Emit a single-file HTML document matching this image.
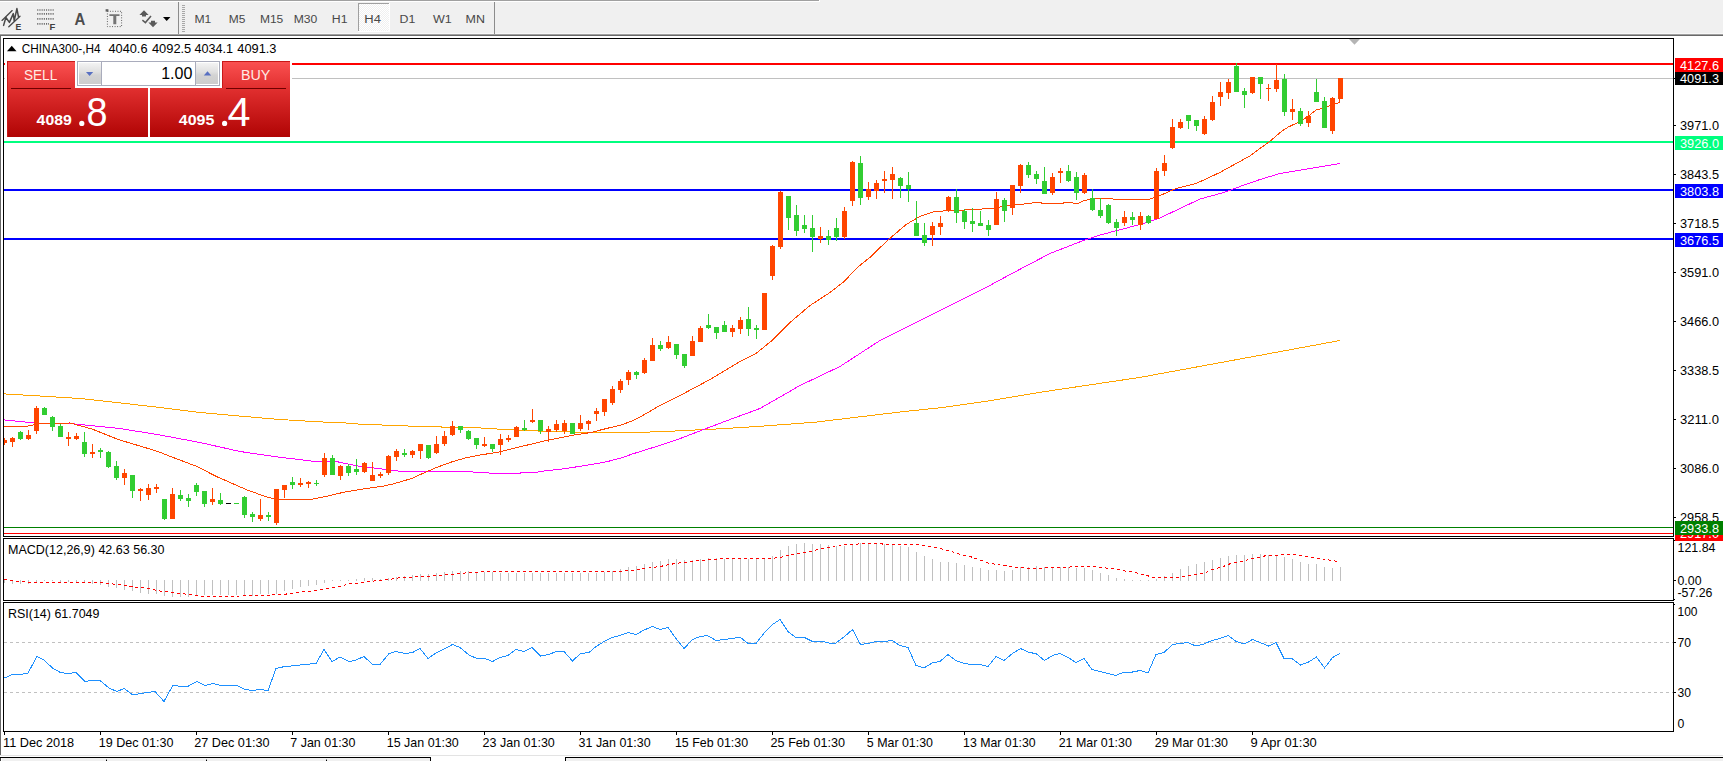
<!DOCTYPE html>
<html><head><meta charset="utf-8"><title>CHINA300-,H4</title>
<style>
html,body{margin:0;padding:0;background:#fff;}
body{width:1723px;height:761px;overflow:hidden;position:relative;font-family:"Liberation Sans",sans-serif;}
svg{position:absolute;left:0;top:0;}
text{font-family:"Liberation Sans",sans-serif;}
.t{font-size:13px;fill:#000;}
.w{font-size:13px;fill:#fff;}
.tf{font-size:11.7px;fill:#484848;}
</style></head><body>
<svg width="1723" height="761" viewBox="0 0 1723 761">
<defs>
<linearGradient id="rg" x1="0" y1="0" x2="0" y2="1"><stop offset="0" stop-color="#fb5252"/><stop offset="0.35" stop-color="#e23030"/><stop offset="1" stop-color="#b00404"/></linearGradient>
<linearGradient id="bg" x1="0" y1="0" x2="0" y2="1"><stop offset="0" stop-color="#f3f3f3"/><stop offset="0.42" stop-color="#e0e0e0"/><stop offset="0.58" stop-color="#d3d3d3"/><stop offset="1" stop-color="#cdcdcd"/></linearGradient>
<pattern id="dith" width="2" height="2" patternUnits="userSpaceOnUse"><rect width="2" height="2" fill="#f0f0f0"/><rect width="1" height="1" fill="#fff"/><rect x="1" y="1" width="1" height="1" fill="#fff"/></pattern>
</defs>

<g shape-rendering="crispEdges">
<rect x="0" y="0" width="1723" height="34" fill="#f0f0f0"/>
<rect x="0" y="0" width="819" height="1" fill="#a0a0a0"/>
<rect x="0" y="1" width="820" height="1" fill="#fff"/><rect x="819" y="0" width="1" height="2" fill="#fff"/>
<rect x="0" y="33" width="1723" height="1" fill="#f8f8f8"/>
<rect x="0" y="34" width="1723" height="1" fill="#a0a0a0"/>
<rect x="0" y="35" width="1723" height="1" fill="#696969"/>
<rect x="0" y="36" width="1" height="719" fill="#696969"/>
<rect x="178" y="2" width="1" height="32" fill="#8c8c8c"/>
<rect x="494" y="2" width="1" height="32" fill="#8c8c8c"/>
<rect x="182" y="5" width="3" height="1" fill="#a8a8a8"/>
<rect x="182" y="7" width="3" height="1" fill="#a8a8a8"/>
<rect x="182" y="9" width="3" height="1" fill="#a8a8a8"/>
<rect x="182" y="11" width="3" height="1" fill="#a8a8a8"/>
<rect x="182" y="13" width="3" height="1" fill="#a8a8a8"/>
<rect x="182" y="15" width="3" height="1" fill="#a8a8a8"/>
<rect x="182" y="17" width="3" height="1" fill="#a8a8a8"/>
<rect x="182" y="19" width="3" height="1" fill="#a8a8a8"/>
<rect x="182" y="21" width="3" height="1" fill="#a8a8a8"/>
<rect x="182" y="23" width="3" height="1" fill="#a8a8a8"/>
<rect x="182" y="25" width="3" height="1" fill="#a8a8a8"/>
<rect x="182" y="27" width="3" height="1" fill="#a8a8a8"/>
<rect x="182" y="29" width="3" height="1" fill="#a8a8a8"/>
<rect x="182" y="31" width="3" height="1" fill="#a8a8a8"/>
<rect x="358" y="3" width="31" height="29" fill="url(#dith)"/>
<rect x="358" y="3" width="31" height="1" fill="#a0a0a0"/><rect x="358" y="3" width="1" height="29" fill="#a0a0a0"/>
<rect x="358" y="31" width="32" height="1" fill="#fff"/><rect x="389" y="3" width="1" height="29" fill="#fff"/>
</g>
<text class="tf" x="194.4" y="23.3" textLength="16.9" lengthAdjust="spacingAndGlyphs">M1</text>
<text class="tf" x="228.7" y="23.3" textLength="16.6" lengthAdjust="spacingAndGlyphs">M5</text>
<text class="tf" x="259.9" y="23.3" textLength="23.4" lengthAdjust="spacingAndGlyphs">M15</text>
<text class="tf" x="293.7" y="23.3" textLength="23.6" lengthAdjust="spacingAndGlyphs">M30</text>
<text class="tf" x="331.8" y="23.3" textLength="15.7" lengthAdjust="spacingAndGlyphs">H1</text>
<text class="tf" x="364.3" y="23.3" textLength="16.6" lengthAdjust="spacingAndGlyphs">H4</text>
<text class="tf" x="399.5" y="23.3" textLength="15.8" lengthAdjust="spacingAndGlyphs">D1</text>
<text class="tf" x="433.0" y="23.3" textLength="18.8" lengthAdjust="spacingAndGlyphs">W1</text>
<text class="tf" x="465.5" y="23.3" textLength="19.4" lengthAdjust="spacingAndGlyphs">MN</text>
<g id="icons" fill="none" stroke="#484848" stroke-linecap="round">
<path d="M2 20.4 L12.2 10.6 M8.8 26.8 L20 16.2" stroke-width="1.35"/>
<path d="M3.6 25.4 L5.9 17.5 L9.4 22.4 L13.3 13.6 L14.2 20.8 L16.9 8.6 L18.5 16.8" stroke-width="1.5" stroke-linejoin="round"/>
</g>
<text x="15.6" y="29.6" font-size="9.2" font-weight="bold" fill="#404040" textLength="5.8" lengthAdjust="spacingAndGlyphs">E</text>
<g stroke="#6c6c6c" stroke-width="1.7" stroke-dasharray="1.1,1.1">
<path d="M37.2 10 H54.4 M37.2 13.9 H54.4 M37.2 18.8 H54.4 M37.2 23.8 H49"/></g>
<text x="49.4" y="29.6" font-size="9.2" font-weight="bold" fill="#404040" textLength="5.8" lengthAdjust="spacingAndGlyphs">F</text>
<text x="74.6" y="24.5" font-size="16.6" font-weight="bold" fill="#4c4c4c" textLength="10.8" lengthAdjust="spacingAndGlyphs">A</text>
<rect x="107.4" y="11.3" width="14.2" height="15.3" fill="none" stroke="#555" stroke-width="1" stroke-dasharray="0.9,1.64"/>
<rect x="105.6" y="9.2" width="2.8" height="2.4" fill="#606060"/>
<path d="M109.4 14.2 H119.5 V16 H116.3 V24.3 H113.3 V16 H109.4 Z" fill="#747474"/>
<g fill="#5a5a5a"><path d="M144 10.2 L148.6 15 H146 V16.6 H142 V15 H139.4 Z"/><path d="M153 27.2 L148.4 22.4 H151 V20.8 H155 V22.4 H157.6 Z"/></g>
<path d="M142.4 20.2 L145.4 22.6 L151 16" fill="none" stroke="#5a5a5a" stroke-width="1.5"/>
<path d="M163 17 H170.4 L166.7 21 Z" fill="#000"/>

<g shape-rendering="crispEdges">
<rect x="1" y="36" width="1722" height="719" fill="#fff"/>
<rect x="3" y="38" width="1671" height="1" fill="#000"/>
<rect x="3" y="38" width="1" height="694" fill="#000"/>
<rect x="1673" y="38" width="1" height="694" fill="#000"/>
<rect x="3" y="536" width="1671" height="1" fill="#000"/>
<rect x="3" y="538" width="1671" height="1" fill="#000"/>
<rect x="3" y="600" width="1671" height="1" fill="#000"/>
<rect x="3" y="602" width="1671" height="1" fill="#000"/>
<rect x="3" y="731" width="1671" height="1" fill="#000"/>
<rect x="3" y="537" width="1671" height="1" fill="#fff"/><rect x="3" y="601" width="1671" height="1" fill="#fff"/>
<rect x="4" y="63" width="1669" height="2" fill="#ff0000"/>
<rect x="4" y="78" width="1669" height="1" fill="#c0c0c0"/>
<rect x="4" y="141" width="1669" height="2" fill="#00ff7f"/>
<rect x="4" y="189" width="1669" height="2" fill="#0000ff"/>
<rect x="4" y="238" width="1669" height="2" fill="#0000ff"/>
<rect x="4" y="527" width="1669" height="1" fill="#008000"/>
<rect x="4" y="533" width="1669" height="1" fill="#ff0000"/>
<path d="M1349 39 H1360 L1354.5 44.8 Z" fill="#b4b4b4" shape-rendering="auto"/>
</g>
<polyline points="4.0,393.9 48.0,396.5 80.0,398.5 120.0,402.9 160.0,407.5 200.0,412.5 240.0,416.1 280.0,419.5 320.0,421.9 345.0,422.9 360.0,424.2 416.0,426.3 440.0,426.3 442.0,427.2 479.0,427.2 482.0,428.5 496.0,428.5 498.0,429.4 513.0,429.4 521.0,430.5 537.0,430.7 540.0,431.8 574.0,432.0 578.0,432.8 632.0,432.8 650.0,432.0 675.0,431.0 720.0,428.8 760.0,426.3 816.0,422.1 900.0,412.0 940.0,407.8 985.0,401.5 1040.0,392.3 1140.0,377.4 1239.5,359.1 1340.0,340.5" fill="none" stroke="#ffa500" stroke-width="1" shape-rendering="crispEdges"/>
<polyline points="4.0,419.9 40.0,423.5 70.0,423.5 120.0,428.5 160.0,435.0 200.0,442.5 240.0,451.5 280.0,457.3 297.0,459.2 312.8,461.3 335.0,461.3 358.8,466.1 385.0,469.4 401.0,471.4 472.0,471.4 474.0,472.5 488.0,472.5 490.0,473.4 520.0,473.4 521.0,472.5 535.0,472.5 544.0,471.0 560.5,469.2 573.7,467.3 590.8,464.6 606.5,461.8 621.0,458.0 632.0,454.1 650.0,448.5 675.0,440.5 723.0,422.1 760.0,408.5 800.0,385.5 840.0,366.5 880.0,340.5 920.0,320.5 960.0,300.5 985.0,288.1 1010.0,274.5 1050.0,253.5 1080.0,241.8 1100.0,235.0 1140.0,224.5 1160.0,218.0 1200.0,199.0 1224.0,192.5 1240.0,186.5 1260.0,179.5 1280.0,173.5 1300.0,170.2 1340.0,163.5" fill="none" stroke="#ff00ff" stroke-width="1" shape-rendering="crispEdges"/>
<polyline points="4.0,427.0 26.0,426.5 40.0,423.5 70.0,423.0 92.0,429.0 118.3,439.5 157.7,451.4 170.0,456.3 197.0,466.5 216.0,476.3 246.0,489.5 268.0,497.5 280.0,499.3 311.5,499.3 326.0,496.4 345.7,491.8 365.4,488.7 385.0,485.8 394.3,483.6 411.4,478.6 424.5,472.7 435.0,468.1 450.8,462.2 464.0,458.3 477.0,455.6 481.7,454.8 500.1,451.8 521.1,446.5 547.4,440.3 573.7,435.1 590.8,432.5 606.5,428.5 621.0,425.0 632.0,421.0 640.0,417.0 660.0,405.5 680.0,395.5 710.0,379.5 740.0,361.5 756.0,353.5 772.0,340.5 790.0,322.5 810.0,305.5 830.0,292.5 844.0,281.5 858.3,266.7 871.4,256.2 880.0,247.6 890.0,238.3 906.0,224.6 920.0,216.3 934.0,211.7 950.0,210.5 980.0,209.5 984.5,208.5 993.0,208.5 1000.0,207.0 1010.0,205.5 1014.4,204.5 1023.6,204.5 1025.0,203.5 1031.5,203.5 1033.0,202.5 1040.7,202.5 1042.0,203.5 1063.0,203.5 1064.3,202.5 1072.2,202.5 1073.5,203.5 1077.5,203.5 1083.0,201.1 1092.0,198.4 1112.0,198.4 1114.0,199.4 1149.0,199.4 1160.0,195.6 1176.0,188.4 1196.0,183.6 1220.0,172.4 1250.0,155.9 1258.0,149.9 1269.0,142.0 1281.6,131.3 1288.0,127.2 1300.4,121.3 1308.0,116.5 1316.7,109.4 1321.7,108.8 1330.5,105.5 1335.5,103.8 1339.0,102.5 1340.0,99.5" fill="none" stroke="#ff4500" stroke-width="1" shape-rendering="crispEdges"/>
<g shape-rendering="crispEdges">
<rect x="4" y="438" width="1" height="7" fill="#ff4500"/>
<rect x="4" y="440" width="3" height="3" fill="#ff4500"/>
<rect x="12" y="437" width="1" height="10" fill="#ff4500"/>
<rect x="10" y="438" width="5" height="4" fill="#ff4500"/>
<rect x="20" y="431" width="1" height="9" fill="#32cd32"/>
<rect x="18" y="432" width="5" height="7" fill="#32cd32"/>
<rect x="28" y="430" width="1" height="10" fill="#ff4500"/>
<rect x="26" y="435" width="5" height="4" fill="#ff4500"/>
<rect x="36" y="406" width="1" height="28" fill="#ff4500"/>
<rect x="34" y="408" width="5" height="23" fill="#ff4500"/>
<rect x="44" y="407" width="1" height="8" fill="#32cd32"/>
<rect x="42" y="408" width="5" height="7" fill="#32cd32"/>
<rect x="52" y="416" width="1" height="15" fill="#32cd32"/>
<rect x="50" y="417" width="5" height="10" fill="#32cd32"/>
<rect x="60" y="424" width="1" height="13" fill="#32cd32"/>
<rect x="58" y="426" width="5" height="11" fill="#32cd32"/>
<rect x="68" y="432" width="1" height="14" fill="#ff4500"/>
<rect x="66" y="437" width="5" height="2" fill="#ff4500"/>
<rect x="76" y="433" width="1" height="7" fill="#ff4500"/>
<rect x="74" y="436" width="5" height="3" fill="#ff4500"/>
<rect x="84" y="432" width="1" height="25" fill="#32cd32"/>
<rect x="82" y="442" width="5" height="12" fill="#32cd32"/>
<rect x="92" y="444" width="1" height="14" fill="#ff4500"/>
<rect x="90" y="452" width="5" height="2" fill="#ff4500"/>
<rect x="100" y="448" width="1" height="10" fill="#32cd32"/>
<rect x="98" y="450" width="5" height="2" fill="#32cd32"/>
<rect x="108" y="451" width="1" height="17" fill="#32cd32"/>
<rect x="106" y="452" width="5" height="15" fill="#32cd32"/>
<rect x="116" y="461" width="1" height="19" fill="#32cd32"/>
<rect x="114" y="466" width="5" height="12" fill="#32cd32"/>
<rect x="124" y="469" width="1" height="16" fill="#ff4500"/>
<rect x="122" y="473" width="5" height="5" fill="#ff4500"/>
<rect x="132" y="475" width="1" height="23" fill="#32cd32"/>
<rect x="130" y="475" width="5" height="16" fill="#32cd32"/>
<rect x="140" y="488" width="1" height="13" fill="#ff4500"/>
<rect x="138" y="489" width="5" height="2" fill="#ff4500"/>
<rect x="148" y="484" width="1" height="16" fill="#ff4500"/>
<rect x="146" y="488" width="5" height="7" fill="#ff4500"/>
<rect x="156" y="484" width="1" height="9" fill="#ff4500"/>
<rect x="154" y="487" width="5" height="2" fill="#ff4500"/>
<rect x="164" y="499" width="1" height="21" fill="#32cd32"/>
<rect x="162" y="499" width="5" height="20" fill="#32cd32"/>
<rect x="172" y="488" width="1" height="31" fill="#ff4500"/>
<rect x="170" y="494" width="5" height="25" fill="#ff4500"/>
<rect x="180" y="490" width="1" height="11" fill="#32cd32"/>
<rect x="178" y="495" width="5" height="4" fill="#32cd32"/>
<rect x="188" y="494" width="1" height="13" fill="#32cd32"/>
<rect x="186" y="498" width="5" height="3" fill="#32cd32"/>
<rect x="196" y="483" width="1" height="13" fill="#32cd32"/>
<rect x="194" y="485" width="5" height="7" fill="#32cd32"/>
<rect x="204" y="491" width="1" height="16" fill="#32cd32"/>
<rect x="202" y="491" width="5" height="13" fill="#32cd32"/>
<rect x="212" y="488" width="1" height="17" fill="#ff4500"/>
<rect x="210" y="499" width="5" height="3" fill="#ff4500"/>
<rect x="220" y="493" width="1" height="12" fill="#32cd32"/>
<rect x="218" y="500" width="5" height="4" fill="#32cd32"/>
<rect x="228" y="503" width="1" height="1" fill="#000"/>
<rect x="226" y="503" width="5" height="1" fill="#000"/>
<rect x="236" y="503" width="1" height="1" fill="#32cd32"/>
<rect x="234" y="503" width="5" height="1" fill="#32cd32"/>
<rect x="244" y="496" width="1" height="22" fill="#32cd32"/>
<rect x="242" y="497" width="5" height="18" fill="#32cd32"/>
<rect x="252" y="512" width="1" height="10" fill="#32cd32"/>
<rect x="250" y="514" width="5" height="3" fill="#32cd32"/>
<rect x="260" y="499" width="1" height="22" fill="#ff4500"/>
<rect x="258" y="515" width="5" height="4" fill="#ff4500"/>
<rect x="268" y="512" width="1" height="9" fill="#32cd32"/>
<rect x="266" y="515" width="5" height="2" fill="#32cd32"/>
<rect x="276" y="489" width="1" height="36" fill="#ff4500"/>
<rect x="274" y="489" width="5" height="34" fill="#ff4500"/>
<rect x="284" y="485" width="1" height="13" fill="#ff4500"/>
<rect x="282" y="485" width="5" height="5" fill="#ff4500"/>
<rect x="292" y="477" width="1" height="12" fill="#32cd32"/>
<rect x="290" y="482" width="5" height="3" fill="#32cd32"/>
<rect x="300" y="478" width="1" height="9" fill="#ff4500"/>
<rect x="298" y="483" width="5" height="2" fill="#ff4500"/>
<rect x="308" y="481" width="1" height="7" fill="#ff4500"/>
<rect x="306" y="482" width="5" height="2" fill="#ff4500"/>
<rect x="316" y="480" width="1" height="6" fill="#32cd32"/>
<rect x="314" y="483" width="5" height="1" fill="#32cd32"/>
<rect x="324" y="453" width="1" height="24" fill="#ff4500"/>
<rect x="322" y="458" width="5" height="17" fill="#ff4500"/>
<rect x="332" y="455" width="1" height="20" fill="#32cd32"/>
<rect x="330" y="458" width="5" height="17" fill="#32cd32"/>
<rect x="340" y="465" width="1" height="15" fill="#ff4500"/>
<rect x="338" y="466" width="5" height="10" fill="#ff4500"/>
<rect x="348" y="464" width="1" height="12" fill="#32cd32"/>
<rect x="346" y="466" width="5" height="7" fill="#32cd32"/>
<rect x="356" y="459" width="1" height="16" fill="#32cd32"/>
<rect x="354" y="469" width="5" height="3" fill="#32cd32"/>
<rect x="364" y="462" width="1" height="11" fill="#ff4500"/>
<rect x="362" y="463" width="5" height="9" fill="#ff4500"/>
<rect x="372" y="462" width="1" height="19" fill="#ff4500"/>
<rect x="370" y="475" width="5" height="6" fill="#ff4500"/>
<rect x="380" y="472" width="1" height="6" fill="#ff4500"/>
<rect x="378" y="474" width="5" height="2" fill="#ff4500"/>
<rect x="388" y="455" width="1" height="20" fill="#ff4500"/>
<rect x="386" y="456" width="5" height="17" fill="#ff4500"/>
<rect x="396" y="449" width="1" height="12" fill="#ff4500"/>
<rect x="394" y="451" width="5" height="6" fill="#ff4500"/>
<rect x="404" y="449" width="1" height="8" fill="#32cd32"/>
<rect x="402" y="453" width="5" height="2" fill="#32cd32"/>
<rect x="412" y="450" width="1" height="8" fill="#ff4500"/>
<rect x="410" y="451" width="5" height="4" fill="#ff4500"/>
<rect x="420" y="444" width="1" height="15" fill="#ff4500"/>
<rect x="418" y="444" width="5" height="7" fill="#ff4500"/>
<rect x="428" y="445" width="1" height="14" fill="#32cd32"/>
<rect x="426" y="445" width="5" height="13" fill="#32cd32"/>
<rect x="436" y="436" width="1" height="18" fill="#ff4500"/>
<rect x="434" y="444" width="5" height="9" fill="#ff4500"/>
<rect x="444" y="431" width="1" height="15" fill="#ff4500"/>
<rect x="442" y="436" width="5" height="8" fill="#ff4500"/>
<rect x="452" y="421" width="1" height="15" fill="#ff4500"/>
<rect x="450" y="426" width="5" height="9" fill="#ff4500"/>
<rect x="460" y="426" width="1" height="7" fill="#32cd32"/>
<rect x="458" y="426" width="5" height="4" fill="#32cd32"/>
<rect x="468" y="430" width="1" height="10" fill="#32cd32"/>
<rect x="466" y="431" width="5" height="8" fill="#32cd32"/>
<rect x="476" y="438" width="1" height="11" fill="#32cd32"/>
<rect x="474" y="438" width="5" height="7" fill="#32cd32"/>
<rect x="484" y="437" width="1" height="10" fill="#ff4500"/>
<rect x="482" y="444" width="5" height="2" fill="#ff4500"/>
<rect x="492" y="444" width="1" height="8" fill="#32cd32"/>
<rect x="490" y="444" width="5" height="5" fill="#32cd32"/>
<rect x="500" y="434" width="1" height="21" fill="#ff4500"/>
<rect x="498" y="439" width="5" height="6" fill="#ff4500"/>
<rect x="508" y="435" width="1" height="7" fill="#ff4500"/>
<rect x="506" y="438" width="5" height="2" fill="#ff4500"/>
<rect x="516" y="426" width="1" height="11" fill="#ff4500"/>
<rect x="514" y="427" width="5" height="10" fill="#ff4500"/>
<rect x="524" y="420" width="1" height="11" fill="#32cd32"/>
<rect x="522" y="428" width="5" height="2" fill="#32cd32"/>
<rect x="532" y="409" width="1" height="14" fill="#ff4500"/>
<rect x="530" y="420" width="5" height="2" fill="#ff4500"/>
<rect x="540" y="420" width="1" height="14" fill="#32cd32"/>
<rect x="538" y="420" width="5" height="11" fill="#32cd32"/>
<rect x="548" y="426" width="1" height="16" fill="#ff4500"/>
<rect x="546" y="429" width="5" height="3" fill="#ff4500"/>
<rect x="556" y="420" width="1" height="12" fill="#ff4500"/>
<rect x="554" y="424" width="5" height="6" fill="#ff4500"/>
<rect x="564" y="420" width="1" height="14" fill="#ff4500"/>
<rect x="562" y="423" width="5" height="8" fill="#ff4500"/>
<rect x="572" y="423" width="1" height="11" fill="#32cd32"/>
<rect x="570" y="423" width="5" height="11" fill="#32cd32"/>
<rect x="580" y="415" width="1" height="16" fill="#ff4500"/>
<rect x="578" y="423" width="5" height="6" fill="#ff4500"/>
<rect x="588" y="420" width="1" height="10" fill="#ff4500"/>
<rect x="586" y="421" width="5" height="3" fill="#ff4500"/>
<rect x="596" y="408" width="1" height="13" fill="#ff4500"/>
<rect x="594" y="411" width="5" height="3" fill="#ff4500"/>
<rect x="604" y="399" width="1" height="17" fill="#ff4500"/>
<rect x="602" y="399" width="5" height="13" fill="#ff4500"/>
<rect x="612" y="386" width="1" height="19" fill="#ff4500"/>
<rect x="610" y="389" width="5" height="14" fill="#ff4500"/>
<rect x="620" y="379" width="1" height="14" fill="#ff4500"/>
<rect x="618" y="381" width="5" height="9" fill="#ff4500"/>
<rect x="628" y="370" width="1" height="15" fill="#ff4500"/>
<rect x="626" y="372" width="5" height="8" fill="#ff4500"/>
<rect x="636" y="371" width="1" height="8" fill="#32cd32"/>
<rect x="634" y="372" width="5" height="3" fill="#32cd32"/>
<rect x="644" y="358" width="1" height="16" fill="#ff4500"/>
<rect x="642" y="360" width="5" height="13" fill="#ff4500"/>
<rect x="652" y="338" width="1" height="23" fill="#ff4500"/>
<rect x="650" y="345" width="5" height="16" fill="#ff4500"/>
<rect x="660" y="341" width="1" height="10" fill="#32cd32"/>
<rect x="658" y="345" width="5" height="4" fill="#32cd32"/>
<rect x="668" y="336" width="1" height="13" fill="#ff4500"/>
<rect x="666" y="342" width="5" height="6" fill="#ff4500"/>
<rect x="676" y="344" width="1" height="15" fill="#32cd32"/>
<rect x="674" y="344" width="5" height="11" fill="#32cd32"/>
<rect x="684" y="354" width="1" height="14" fill="#32cd32"/>
<rect x="682" y="354" width="5" height="12" fill="#32cd32"/>
<rect x="692" y="336" width="1" height="20" fill="#ff4500"/>
<rect x="690" y="341" width="5" height="15" fill="#ff4500"/>
<rect x="700" y="326" width="1" height="16" fill="#ff4500"/>
<rect x="698" y="328" width="5" height="14" fill="#ff4500"/>
<rect x="708" y="314" width="1" height="15" fill="#32cd32"/>
<rect x="706" y="325" width="5" height="3" fill="#32cd32"/>
<rect x="716" y="327" width="1" height="12" fill="#32cd32"/>
<rect x="714" y="327" width="5" height="6" fill="#32cd32"/>
<rect x="724" y="321" width="1" height="11" fill="#32cd32"/>
<rect x="722" y="325" width="5" height="7" fill="#32cd32"/>
<rect x="732" y="325" width="1" height="12" fill="#ff4500"/>
<rect x="730" y="328" width="5" height="4" fill="#ff4500"/>
<rect x="740" y="317" width="1" height="17" fill="#ff4500"/>
<rect x="738" y="320" width="5" height="9" fill="#ff4500"/>
<rect x="748" y="307" width="1" height="29" fill="#32cd32"/>
<rect x="746" y="319" width="5" height="10" fill="#32cd32"/>
<rect x="756" y="325" width="1" height="14" fill="#32cd32"/>
<rect x="754" y="328" width="5" height="2" fill="#32cd32"/>
<rect x="764" y="293" width="1" height="37" fill="#ff4500"/>
<rect x="762" y="293" width="5" height="37" fill="#ff4500"/>
<rect x="772" y="245" width="1" height="35" fill="#ff4500"/>
<rect x="770" y="246" width="5" height="30" fill="#ff4500"/>
<rect x="780" y="191" width="1" height="58" fill="#ff4500"/>
<rect x="778" y="192" width="5" height="55" fill="#ff4500"/>
<rect x="788" y="196" width="1" height="34" fill="#32cd32"/>
<rect x="786" y="196" width="5" height="22" fill="#32cd32"/>
<rect x="796" y="205" width="1" height="31" fill="#32cd32"/>
<rect x="794" y="215" width="5" height="16" fill="#32cd32"/>
<rect x="804" y="215" width="1" height="18" fill="#32cd32"/>
<rect x="802" y="225" width="5" height="4" fill="#32cd32"/>
<rect x="812" y="215" width="1" height="37" fill="#32cd32"/>
<rect x="810" y="228" width="5" height="9" fill="#32cd32"/>
<rect x="820" y="227" width="1" height="16" fill="#ff4500"/>
<rect x="818" y="236" width="5" height="3" fill="#ff4500"/>
<rect x="828" y="230" width="1" height="15" fill="#32cd32"/>
<rect x="826" y="236" width="5" height="4" fill="#32cd32"/>
<rect x="836" y="218" width="1" height="23" fill="#32cd32"/>
<rect x="834" y="228" width="5" height="9" fill="#32cd32"/>
<rect x="844" y="207" width="1" height="32" fill="#ff4500"/>
<rect x="842" y="211" width="5" height="26" fill="#ff4500"/>
<rect x="852" y="161" width="1" height="45" fill="#ff4500"/>
<rect x="850" y="162" width="5" height="39" fill="#ff4500"/>
<rect x="860" y="156" width="1" height="49" fill="#32cd32"/>
<rect x="858" y="163" width="5" height="35" fill="#32cd32"/>
<rect x="868" y="182" width="1" height="18" fill="#ff4500"/>
<rect x="866" y="189" width="5" height="8" fill="#ff4500"/>
<rect x="876" y="180" width="1" height="19" fill="#ff4500"/>
<rect x="874" y="183" width="5" height="8" fill="#ff4500"/>
<rect x="884" y="171" width="1" height="22" fill="#ff4500"/>
<rect x="882" y="179" width="5" height="2" fill="#ff4500"/>
<rect x="892" y="167" width="1" height="32" fill="#ff4500"/>
<rect x="890" y="174" width="5" height="6" fill="#ff4500"/>
<rect x="900" y="177" width="1" height="21" fill="#32cd32"/>
<rect x="898" y="178" width="5" height="8" fill="#32cd32"/>
<rect x="908" y="172" width="1" height="30" fill="#32cd32"/>
<rect x="906" y="185" width="5" height="4" fill="#32cd32"/>
<rect x="916" y="201" width="1" height="35" fill="#32cd32"/>
<rect x="914" y="223" width="5" height="13" fill="#32cd32"/>
<rect x="924" y="223" width="1" height="23" fill="#32cd32"/>
<rect x="922" y="235" width="5" height="8" fill="#32cd32"/>
<rect x="932" y="222" width="1" height="24" fill="#ff4500"/>
<rect x="930" y="226" width="5" height="9" fill="#ff4500"/>
<rect x="940" y="216" width="1" height="19" fill="#ff4500"/>
<rect x="938" y="223" width="5" height="4" fill="#ff4500"/>
<rect x="948" y="196" width="1" height="16" fill="#ff4500"/>
<rect x="946" y="197" width="5" height="14" fill="#ff4500"/>
<rect x="956" y="189" width="1" height="34" fill="#32cd32"/>
<rect x="954" y="197" width="5" height="16" fill="#32cd32"/>
<rect x="964" y="209" width="1" height="20" fill="#32cd32"/>
<rect x="962" y="211" width="5" height="11" fill="#32cd32"/>
<rect x="972" y="208" width="1" height="24" fill="#32cd32"/>
<rect x="970" y="221" width="5" height="3" fill="#32cd32"/>
<rect x="980" y="211" width="1" height="15" fill="#32cd32"/>
<rect x="978" y="223" width="5" height="3" fill="#32cd32"/>
<rect x="988" y="220" width="1" height="16" fill="#32cd32"/>
<rect x="986" y="225" width="5" height="5" fill="#32cd32"/>
<rect x="996" y="192" width="1" height="33" fill="#ff4500"/>
<rect x="994" y="199" width="5" height="26" fill="#ff4500"/>
<rect x="1004" y="198" width="1" height="24" fill="#32cd32"/>
<rect x="1002" y="200" width="5" height="11" fill="#32cd32"/>
<rect x="1012" y="185" width="1" height="30" fill="#ff4500"/>
<rect x="1010" y="185" width="5" height="23" fill="#ff4500"/>
<rect x="1020" y="164" width="1" height="29" fill="#ff4500"/>
<rect x="1018" y="165" width="5" height="21" fill="#ff4500"/>
<rect x="1028" y="162" width="1" height="16" fill="#32cd32"/>
<rect x="1026" y="165" width="5" height="10" fill="#32cd32"/>
<rect x="1036" y="171" width="1" height="13" fill="#32cd32"/>
<rect x="1034" y="174" width="5" height="5" fill="#32cd32"/>
<rect x="1044" y="167" width="1" height="27" fill="#32cd32"/>
<rect x="1042" y="181" width="5" height="13" fill="#32cd32"/>
<rect x="1052" y="173" width="1" height="22" fill="#ff4500"/>
<rect x="1050" y="177" width="5" height="16" fill="#ff4500"/>
<rect x="1060" y="168" width="1" height="15" fill="#ff4500"/>
<rect x="1058" y="171" width="5" height="2" fill="#ff4500"/>
<rect x="1068" y="165" width="1" height="17" fill="#32cd32"/>
<rect x="1066" y="171" width="5" height="10" fill="#32cd32"/>
<rect x="1076" y="172" width="1" height="28" fill="#32cd32"/>
<rect x="1074" y="177" width="5" height="16" fill="#32cd32"/>
<rect x="1084" y="173" width="1" height="21" fill="#ff4500"/>
<rect x="1082" y="175" width="5" height="18" fill="#ff4500"/>
<rect x="1092" y="189" width="1" height="22" fill="#32cd32"/>
<rect x="1090" y="198" width="5" height="12" fill="#32cd32"/>
<rect x="1100" y="198" width="1" height="20" fill="#32cd32"/>
<rect x="1098" y="210" width="5" height="6" fill="#32cd32"/>
<rect x="1108" y="204" width="1" height="20" fill="#32cd32"/>
<rect x="1106" y="205" width="5" height="18" fill="#32cd32"/>
<rect x="1116" y="219" width="1" height="17" fill="#32cd32"/>
<rect x="1114" y="222" width="5" height="6" fill="#32cd32"/>
<rect x="1124" y="211" width="1" height="15" fill="#ff4500"/>
<rect x="1122" y="217" width="5" height="6" fill="#ff4500"/>
<rect x="1132" y="212" width="1" height="13" fill="#32cd32"/>
<rect x="1130" y="217" width="5" height="3" fill="#32cd32"/>
<rect x="1140" y="212" width="1" height="18" fill="#ff4500"/>
<rect x="1138" y="216" width="5" height="9" fill="#ff4500"/>
<rect x="1148" y="215" width="1" height="9" fill="#32cd32"/>
<rect x="1146" y="216" width="5" height="7" fill="#32cd32"/>
<rect x="1156" y="168" width="1" height="51" fill="#ff4500"/>
<rect x="1154" y="171" width="5" height="48" fill="#ff4500"/>
<rect x="1164" y="155" width="1" height="21" fill="#ff4500"/>
<rect x="1162" y="163" width="5" height="8" fill="#ff4500"/>
<rect x="1172" y="119" width="1" height="30" fill="#ff4500"/>
<rect x="1170" y="127" width="5" height="21" fill="#ff4500"/>
<rect x="1180" y="119" width="1" height="10" fill="#ff4500"/>
<rect x="1178" y="122" width="5" height="6" fill="#ff4500"/>
<rect x="1188" y="115" width="1" height="14" fill="#32cd32"/>
<rect x="1186" y="115" width="5" height="6" fill="#32cd32"/>
<rect x="1196" y="120" width="1" height="11" fill="#32cd32"/>
<rect x="1194" y="120" width="5" height="6" fill="#32cd32"/>
<rect x="1204" y="116" width="1" height="19" fill="#ff4500"/>
<rect x="1202" y="119" width="5" height="15" fill="#ff4500"/>
<rect x="1212" y="96" width="1" height="25" fill="#ff4500"/>
<rect x="1210" y="102" width="5" height="18" fill="#ff4500"/>
<rect x="1220" y="82" width="1" height="24" fill="#ff4500"/>
<rect x="1218" y="92" width="5" height="5" fill="#ff4500"/>
<rect x="1228" y="79" width="1" height="20" fill="#ff4500"/>
<rect x="1226" y="82" width="5" height="11" fill="#ff4500"/>
<rect x="1236" y="63" width="1" height="29" fill="#32cd32"/>
<rect x="1234" y="66" width="5" height="26" fill="#32cd32"/>
<rect x="1244" y="88" width="1" height="20" fill="#32cd32"/>
<rect x="1242" y="91" width="5" height="4" fill="#32cd32"/>
<rect x="1252" y="77" width="1" height="17" fill="#ff4500"/>
<rect x="1250" y="77" width="5" height="16" fill="#ff4500"/>
<rect x="1260" y="77" width="1" height="22" fill="#32cd32"/>
<rect x="1258" y="77" width="5" height="7" fill="#32cd32"/>
<rect x="1268" y="84" width="1" height="17" fill="#ff4500"/>
<rect x="1266" y="88" width="5" height="1" fill="#ff4500"/>
<rect x="1276" y="64" width="1" height="28" fill="#ff4500"/>
<rect x="1274" y="80" width="5" height="9" fill="#ff4500"/>
<rect x="1284" y="74" width="1" height="42" fill="#32cd32"/>
<rect x="1282" y="79" width="5" height="33" fill="#32cd32"/>
<rect x="1292" y="99" width="1" height="21" fill="#ff4500"/>
<rect x="1290" y="109" width="5" height="3" fill="#ff4500"/>
<rect x="1300" y="108" width="1" height="18" fill="#32cd32"/>
<rect x="1298" y="111" width="5" height="13" fill="#32cd32"/>
<rect x="1308" y="111" width="1" height="16" fill="#ff4500"/>
<rect x="1306" y="116" width="5" height="7" fill="#ff4500"/>
<rect x="1316" y="79" width="1" height="23" fill="#32cd32"/>
<rect x="1314" y="92" width="5" height="10" fill="#32cd32"/>
<rect x="1324" y="97" width="1" height="31" fill="#32cd32"/>
<rect x="1322" y="101" width="5" height="27" fill="#32cd32"/>
<rect x="1332" y="97" width="1" height="37" fill="#ff4500"/>
<rect x="1330" y="98" width="5" height="33" fill="#ff4500"/>
<rect x="1340" y="78" width="1" height="21" fill="#ff4500"/>
<rect x="1338" y="78" width="5" height="21" fill="#ff4500"/>
</g>
<g shape-rendering="crispEdges">
<rect x="4" y="580" width="1" height="3" fill="#c0c0c0"/>
<rect x="12" y="580" width="1" height="4" fill="#c0c0c0"/>
<rect x="20" y="580" width="1" height="4" fill="#c0c0c0"/>
<rect x="28" y="580" width="1" height="4" fill="#c0c0c0"/>
<rect x="36" y="580" width="1" height="3" fill="#c0c0c0"/>
<rect x="44" y="580" width="1" height="1" fill="#c0c0c0"/>
<rect x="52" y="580" width="1" height="1" fill="#c0c0c0"/>
<rect x="60" y="580" width="1" height="2" fill="#c0c0c0"/>
<rect x="68" y="580" width="1" height="2" fill="#c0c0c0"/>
<rect x="76" y="580" width="1" height="3" fill="#c0c0c0"/>
<rect x="84" y="580" width="1" height="3" fill="#c0c0c0"/>
<rect x="92" y="580" width="1" height="4" fill="#c0c0c0"/>
<rect x="100" y="580" width="1" height="5" fill="#c0c0c0"/>
<rect x="108" y="580" width="1" height="7" fill="#c0c0c0"/>
<rect x="116" y="580" width="1" height="8" fill="#c0c0c0"/>
<rect x="124" y="580" width="1" height="10" fill="#c0c0c0"/>
<rect x="132" y="580" width="1" height="11" fill="#c0c0c0"/>
<rect x="140" y="580" width="1" height="13" fill="#c0c0c0"/>
<rect x="148" y="580" width="1" height="14" fill="#c0c0c0"/>
<rect x="156" y="580" width="1" height="14" fill="#c0c0c0"/>
<rect x="164" y="580" width="1" height="16" fill="#c0c0c0"/>
<rect x="172" y="580" width="1" height="17" fill="#c0c0c0"/>
<rect x="180" y="580" width="1" height="17" fill="#c0c0c0"/>
<rect x="188" y="580" width="1" height="17" fill="#c0c0c0"/>
<rect x="196" y="580" width="1" height="16" fill="#c0c0c0"/>
<rect x="204" y="580" width="1" height="15" fill="#c0c0c0"/>
<rect x="212" y="580" width="1" height="15" fill="#c0c0c0"/>
<rect x="220" y="580" width="1" height="15" fill="#c0c0c0"/>
<rect x="228" y="580" width="1" height="15" fill="#c0c0c0"/>
<rect x="236" y="580" width="1" height="15" fill="#c0c0c0"/>
<rect x="244" y="580" width="1" height="15" fill="#c0c0c0"/>
<rect x="252" y="580" width="1" height="16" fill="#c0c0c0"/>
<rect x="260" y="580" width="1" height="14" fill="#c0c0c0"/>
<rect x="268" y="580" width="1" height="14" fill="#c0c0c0"/>
<rect x="276" y="580" width="1" height="14" fill="#c0c0c0"/>
<rect x="284" y="580" width="1" height="11" fill="#c0c0c0"/>
<rect x="292" y="580" width="1" height="9" fill="#c0c0c0"/>
<rect x="300" y="580" width="1" height="7" fill="#c0c0c0"/>
<rect x="308" y="580" width="1" height="6" fill="#c0c0c0"/>
<rect x="316" y="580" width="1" height="5" fill="#c0c0c0"/>
<rect x="324" y="580" width="1" height="3" fill="#c0c0c0"/>
<rect x="332" y="580" width="1" height="1" fill="#c0c0c0"/>
<rect x="340" y="580" width="1" height="1" fill="#c0c0c0"/>
<rect x="348" y="580" width="1" height="1" fill="#c0c0c0"/>
<rect x="356" y="579" width="1" height="2" fill="#c0c0c0"/>
<rect x="364" y="578" width="1" height="3" fill="#c0c0c0"/>
<rect x="372" y="578" width="1" height="3" fill="#c0c0c0"/>
<rect x="380" y="579" width="1" height="2" fill="#c0c0c0"/>
<rect x="388" y="578" width="1" height="3" fill="#c0c0c0"/>
<rect x="396" y="577" width="1" height="4" fill="#c0c0c0"/>
<rect x="404" y="576" width="1" height="5" fill="#c0c0c0"/>
<rect x="412" y="575" width="1" height="6" fill="#c0c0c0"/>
<rect x="420" y="574" width="1" height="7" fill="#c0c0c0"/>
<rect x="428" y="574" width="1" height="7" fill="#c0c0c0"/>
<rect x="436" y="573" width="1" height="8" fill="#c0c0c0"/>
<rect x="444" y="572" width="1" height="9" fill="#c0c0c0"/>
<rect x="452" y="571" width="1" height="10" fill="#c0c0c0"/>
<rect x="460" y="571" width="1" height="10" fill="#c0c0c0"/>
<rect x="468" y="571" width="1" height="10" fill="#c0c0c0"/>
<rect x="476" y="572" width="1" height="9" fill="#c0c0c0"/>
<rect x="484" y="572" width="1" height="9" fill="#c0c0c0"/>
<rect x="492" y="572" width="1" height="9" fill="#c0c0c0"/>
<rect x="500" y="573" width="1" height="8" fill="#c0c0c0"/>
<rect x="508" y="573" width="1" height="8" fill="#c0c0c0"/>
<rect x="516" y="573" width="1" height="8" fill="#c0c0c0"/>
<rect x="524" y="573" width="1" height="8" fill="#c0c0c0"/>
<rect x="532" y="573" width="1" height="8" fill="#c0c0c0"/>
<rect x="540" y="573" width="1" height="8" fill="#c0c0c0"/>
<rect x="548" y="573" width="1" height="8" fill="#c0c0c0"/>
<rect x="556" y="573" width="1" height="8" fill="#c0c0c0"/>
<rect x="564" y="573" width="1" height="8" fill="#c0c0c0"/>
<rect x="572" y="573" width="1" height="8" fill="#c0c0c0"/>
<rect x="580" y="573" width="1" height="8" fill="#c0c0c0"/>
<rect x="588" y="573" width="1" height="8" fill="#c0c0c0"/>
<rect x="596" y="573" width="1" height="8" fill="#c0c0c0"/>
<rect x="604" y="572" width="1" height="9" fill="#c0c0c0"/>
<rect x="612" y="571" width="1" height="10" fill="#c0c0c0"/>
<rect x="620" y="569" width="1" height="12" fill="#c0c0c0"/>
<rect x="628" y="567" width="1" height="14" fill="#c0c0c0"/>
<rect x="636" y="566" width="1" height="15" fill="#c0c0c0"/>
<rect x="644" y="564" width="1" height="17" fill="#c0c0c0"/>
<rect x="652" y="562" width="1" height="19" fill="#c0c0c0"/>
<rect x="660" y="561" width="1" height="20" fill="#c0c0c0"/>
<rect x="668" y="559" width="1" height="22" fill="#c0c0c0"/>
<rect x="676" y="559" width="1" height="22" fill="#c0c0c0"/>
<rect x="684" y="560" width="1" height="21" fill="#c0c0c0"/>
<rect x="692" y="560" width="1" height="21" fill="#c0c0c0"/>
<rect x="700" y="559" width="1" height="22" fill="#c0c0c0"/>
<rect x="708" y="558" width="1" height="23" fill="#c0c0c0"/>
<rect x="716" y="558" width="1" height="23" fill="#c0c0c0"/>
<rect x="724" y="559" width="1" height="22" fill="#c0c0c0"/>
<rect x="732" y="559" width="1" height="22" fill="#c0c0c0"/>
<rect x="740" y="559" width="1" height="22" fill="#c0c0c0"/>
<rect x="748" y="559" width="1" height="22" fill="#c0c0c0"/>
<rect x="756" y="559" width="1" height="22" fill="#c0c0c0"/>
<rect x="764" y="559" width="1" height="22" fill="#c0c0c0"/>
<rect x="772" y="556" width="1" height="25" fill="#c0c0c0"/>
<rect x="780" y="550" width="1" height="31" fill="#c0c0c0"/>
<rect x="788" y="546" width="1" height="35" fill="#c0c0c0"/>
<rect x="796" y="544" width="1" height="37" fill="#c0c0c0"/>
<rect x="804" y="543" width="1" height="38" fill="#c0c0c0"/>
<rect x="812" y="544" width="1" height="37" fill="#c0c0c0"/>
<rect x="820" y="544" width="1" height="37" fill="#c0c0c0"/>
<rect x="828" y="545" width="1" height="36" fill="#c0c0c0"/>
<rect x="836" y="546" width="1" height="35" fill="#c0c0c0"/>
<rect x="844" y="546" width="1" height="35" fill="#c0c0c0"/>
<rect x="852" y="544" width="1" height="37" fill="#c0c0c0"/>
<rect x="860" y="543" width="1" height="38" fill="#c0c0c0"/>
<rect x="868" y="543" width="1" height="38" fill="#c0c0c0"/>
<rect x="876" y="544" width="1" height="37" fill="#c0c0c0"/>
<rect x="884" y="544" width="1" height="37" fill="#c0c0c0"/>
<rect x="892" y="545" width="1" height="36" fill="#c0c0c0"/>
<rect x="900" y="546" width="1" height="35" fill="#c0c0c0"/>
<rect x="908" y="547" width="1" height="34" fill="#c0c0c0"/>
<rect x="916" y="552" width="1" height="29" fill="#c0c0c0"/>
<rect x="924" y="556" width="1" height="25" fill="#c0c0c0"/>
<rect x="932" y="559" width="1" height="22" fill="#c0c0c0"/>
<rect x="940" y="562" width="1" height="19" fill="#c0c0c0"/>
<rect x="948" y="562" width="1" height="19" fill="#c0c0c0"/>
<rect x="956" y="563" width="1" height="18" fill="#c0c0c0"/>
<rect x="964" y="565" width="1" height="16" fill="#c0c0c0"/>
<rect x="972" y="567" width="1" height="14" fill="#c0c0c0"/>
<rect x="980" y="568" width="1" height="13" fill="#c0c0c0"/>
<rect x="988" y="570" width="1" height="11" fill="#c0c0c0"/>
<rect x="996" y="570" width="1" height="11" fill="#c0c0c0"/>
<rect x="1004" y="571" width="1" height="10" fill="#c0c0c0"/>
<rect x="1012" y="570" width="1" height="11" fill="#c0c0c0"/>
<rect x="1020" y="567" width="1" height="14" fill="#c0c0c0"/>
<rect x="1028" y="567" width="1" height="14" fill="#c0c0c0"/>
<rect x="1036" y="566" width="1" height="15" fill="#c0c0c0"/>
<rect x="1044" y="567" width="1" height="14" fill="#c0c0c0"/>
<rect x="1052" y="567" width="1" height="14" fill="#c0c0c0"/>
<rect x="1060" y="567" width="1" height="14" fill="#c0c0c0"/>
<rect x="1068" y="567" width="1" height="14" fill="#c0c0c0"/>
<rect x="1076" y="568" width="1" height="13" fill="#c0c0c0"/>
<rect x="1084" y="568" width="1" height="13" fill="#c0c0c0"/>
<rect x="1092" y="570" width="1" height="11" fill="#c0c0c0"/>
<rect x="1100" y="573" width="1" height="8" fill="#c0c0c0"/>
<rect x="1108" y="575" width="1" height="6" fill="#c0c0c0"/>
<rect x="1116" y="578" width="1" height="3" fill="#c0c0c0"/>
<rect x="1124" y="579" width="1" height="2" fill="#c0c0c0"/>
<rect x="1132" y="580" width="1" height="1" fill="#c0c0c0"/>
<rect x="1140" y="580" width="1" height="1" fill="#c0c0c0"/>
<rect x="1148" y="580" width="1" height="1" fill="#c0c0c0"/>
<rect x="1156" y="579" width="1" height="2" fill="#c0c0c0"/>
<rect x="1164" y="576" width="1" height="5" fill="#c0c0c0"/>
<rect x="1172" y="573" width="1" height="8" fill="#c0c0c0"/>
<rect x="1180" y="569" width="1" height="12" fill="#c0c0c0"/>
<rect x="1188" y="566" width="1" height="15" fill="#c0c0c0"/>
<rect x="1196" y="564" width="1" height="17" fill="#c0c0c0"/>
<rect x="1204" y="562" width="1" height="19" fill="#c0c0c0"/>
<rect x="1212" y="560" width="1" height="21" fill="#c0c0c0"/>
<rect x="1220" y="558" width="1" height="23" fill="#c0c0c0"/>
<rect x="1228" y="556" width="1" height="25" fill="#c0c0c0"/>
<rect x="1236" y="555" width="1" height="26" fill="#c0c0c0"/>
<rect x="1244" y="555" width="1" height="26" fill="#c0c0c0"/>
<rect x="1252" y="554" width="1" height="27" fill="#c0c0c0"/>
<rect x="1260" y="554" width="1" height="27" fill="#c0c0c0"/>
<rect x="1268" y="555" width="1" height="26" fill="#c0c0c0"/>
<rect x="1276" y="555" width="1" height="26" fill="#c0c0c0"/>
<rect x="1284" y="557" width="1" height="24" fill="#c0c0c0"/>
<rect x="1292" y="559" width="1" height="22" fill="#c0c0c0"/>
<rect x="1300" y="562" width="1" height="19" fill="#c0c0c0"/>
<rect x="1308" y="564" width="1" height="17" fill="#c0c0c0"/>
<rect x="1316" y="564" width="1" height="17" fill="#c0c0c0"/>
<rect x="1324" y="567" width="1" height="14" fill="#c0c0c0"/>
<rect x="1332" y="568" width="1" height="13" fill="#c0c0c0"/>
<rect x="1340" y="567" width="1" height="14" fill="#c0c0c0"/>
</g>
<polyline points="4.0,579.4 11.0,580.4 18.0,581.3 23.0,581.7 30.0,582.4 102.0,582.4 108.0,583.3 114.0,584.2 119.0,584.5 125.0,585.4 131.0,586.3 137.0,587.3 143.0,587.5 149.0,588.4 155.0,590.0 162.0,591.3 167.0,591.5 173.0,592.5 179.0,593.4 185.0,594.0 191.0,594.4 197.0,595.4 203.0,596.3 238.0,596.5 241.0,595.4 270.0,595.4 276.0,594.4 285.0,594.4 289.0,593.4 297.0,592.7 305.0,591.6 311.0,591.3 316.0,590.3 323.0,589.4 329.0,588.5 335.0,587.5 341.0,586.3 347.0,584.4 353.0,583.4 359.0,583.2 365.0,582.2 371.0,581.5 377.0,580.6 383.0,580.4 389.0,579.4 395.0,578.5 401.0,577.5 407.0,577.3 413.0,577.3 419.0,576.3 426.0,576.3 450.0,574.5 465.0,573.0 485.0,571.5 620.0,571.5 630.0,570.5 645.0,568.5 660.0,566.5 675.0,563.5 700.0,560.5 720.0,559.0 730.0,558.5 770.0,558.5 780.0,557.5 790.0,555.0 800.0,553.0 812.0,551.0 825.0,548.0 838.0,545.5 845.0,544.5 852.0,544.5 865.0,543.5 880.0,543.5 885.0,544.5 918.0,544.5 925.0,546.0 940.0,548.5 950.0,551.0 960.0,554.5 970.0,556.5 980.0,560.0 988.0,563.0 1000.0,565.0 1010.0,566.5 1025.0,568.0 1040.0,568.5 1050.0,567.5 1070.0,567.0 1092.0,566.5 1100.0,567.5 1112.0,568.5 1125.0,571.0 1135.0,572.5 1145.0,575.0 1152.0,577.0 1160.0,577.5 1180.0,577.5 1188.0,575.5 1200.0,574.0 1205.0,573.0 1212.0,569.5 1222.0,567.0 1232.0,563.0 1242.0,561.5 1250.0,559.0 1254.0,558.5 1260.0,557.5 1266.0,555.5 1278.0,555.5 1284.0,554.5 1296.0,554.5 1302.0,555.5 1308.0,556.5 1314.0,557.5 1320.0,558.5 1326.0,559.5 1332.0,560.5 1338.0,561.5" fill="none" stroke="#ff0000" stroke-width="1" stroke-dasharray="3,3" shape-rendering="crispEdges"/>
<g shape-rendering="crispEdges" stroke="#c0c0c0" stroke-width="1" stroke-dasharray="3,3"><path d="M4 642.5 H1673 M4 692.5 H1673"/></g>
<polyline points="4.5,678.0 11.0,675.0 21.0,674.5 28.0,673.0 37.0,656.5 44.0,660.0 52.5,668.0 60.5,672.5 67.5,673.5 76.0,672.5 85.0,681.5 91.0,680.5 100.0,680.5 109.0,688.0 117.0,691.5 124.0,688.5 133.0,695.0 140.0,693.5 155.0,691.5 164.0,701.5 173.0,685.0 180.0,686.5 187.5,686.5 197.0,681.5 205.0,685.5 212.5,683.5 219.0,685.0 236.0,685.0 245.0,689.5 252.5,690.5 260.0,689.5 268.0,690.5 276.0,668.5 282.5,667.0 295.0,665.5 305.0,664.5 316.0,663.5 324.0,649.5 332.0,661.5 340.0,657.0 349.0,661.5 355.0,660.5 364.0,656.5 372.5,664.5 380.0,664.5 389.0,653.5 396.0,651.5 405.0,653.5 412.5,652.5 420.0,648.5 428.0,658.5 436.0,653.0 445.0,648.5 452.5,644.5 460.0,647.5 469.0,655.0 477.0,658.5 485.0,658.5 492.5,661.5 500.0,657.5 508.0,655.5 516.0,649.5 524.0,651.5 532.0,647.5 540.5,656.0 549.0,654.5 556.0,651.5 564.0,651.5 572.5,661.0 580.5,653.5 589.0,652.5 596.0,646.5 605.0,641.0 612.5,637.5 620.0,635.5 628.0,632.5 636.0,634.5 644.0,630.0 652.5,626.5 660.0,629.5 668.0,627.5 676.0,638.5 684.0,648.5 692.5,639.5 700.0,636.5 707.5,635.5 716.0,640.5 724.0,639.5 732.0,638.5 740.0,637.0 748.0,643.5 756.0,643.5 764.5,632.5 772.5,624.5 780.0,619.5 788.0,631.5 796.0,637.5 804.5,637.5 812.5,641.5 822.5,641.5 829.0,643.0 836.0,643.0 844.0,637.0 852.5,629.5 860.5,644.5 868.0,643.5 876.0,641.5 884.0,641.5 892.0,640.5 900.0,645.5 908.0,647.5 916.0,665.5 924.0,668.0 932.0,663.0 940.0,661.5 948.0,654.5 956.0,660.5 964.0,663.5 972.5,664.5 980.0,664.5 988.0,666.5 996.0,656.5 1004.0,660.5 1012.5,653.5 1020.5,648.5 1029.0,652.5 1036.0,653.5 1044.5,660.5 1052.5,655.5 1060.0,653.5 1068.0,657.5 1076.0,662.5 1084.0,658.5 1092.0,669.5 1100.0,671.5 1108.0,673.5 1116.0,675.5 1124.0,672.0 1132.5,672.0 1140.0,670.5 1148.0,673.0 1156.0,654.5 1164.0,652.5 1172.5,644.5 1180.0,643.5 1187.5,642.5 1196.0,646.0 1204.0,644.0 1212.0,640.5 1220.0,638.5 1228.0,635.5 1236.0,641.5 1244.0,644.0 1252.5,639.5 1260.0,642.5 1268.5,646.0 1276.0,642.5 1284.0,658.5 1292.0,658.5 1300.6,665.0 1308.5,662.0 1316.5,657.0 1324.5,668.0 1332.5,657.5 1340.0,653.5" fill="none" stroke="#1e90ff" stroke-width="1" shape-rendering="crispEdges"/>
<g shape-rendering="crispEdges">
<rect x="1674" y="125" width="2" height="1" fill="#000"/>
<rect x="1674" y="174" width="2" height="1" fill="#000"/>
<rect x="1674" y="223" width="2" height="1" fill="#000"/>
<rect x="1674" y="272" width="2" height="1" fill="#000"/>
<rect x="1674" y="321" width="2" height="1" fill="#000"/>
<rect x="1674" y="370" width="2" height="1" fill="#000"/>
<rect x="1674" y="419" width="2" height="1" fill="#000"/>
<rect x="1674" y="468" width="2" height="1" fill="#000"/>
<rect x="1674" y="517" width="2" height="1" fill="#000"/>
<rect x="1674" y="78" width="2" height="1" fill="#000"/>
<rect x="1674" y="580" width="2" height="1" fill="#000"/>
<rect x="1674" y="642" width="2" height="1" fill="#000"/>
<rect x="1674" y="692" width="2" height="1" fill="#000"/>
<rect x="1674" y="599" width="1" height="1" fill="#000"/>
<rect x="1674" y="604" width="1" height="1" fill="#000"/>
</g>
<text class="t" x="1680" y="130.0" textLength="39" lengthAdjust="spacingAndGlyphs">3971.0</text>
<text class="t" x="1680" y="179.0" textLength="39" lengthAdjust="spacingAndGlyphs">3843.5</text>
<text class="t" x="1680" y="228.0" textLength="39" lengthAdjust="spacingAndGlyphs">3718.5</text>
<text class="t" x="1680" y="277.0" textLength="39" lengthAdjust="spacingAndGlyphs">3591.0</text>
<text class="t" x="1680" y="326.0" textLength="39" lengthAdjust="spacingAndGlyphs">3466.0</text>
<text class="t" x="1680" y="375.0" textLength="39" lengthAdjust="spacingAndGlyphs">3338.5</text>
<text class="t" x="1680" y="424.0" textLength="39" lengthAdjust="spacingAndGlyphs">3211.0</text>
<text class="t" x="1680" y="473.0" textLength="39" lengthAdjust="spacingAndGlyphs">3086.0</text>
<text class="t" x="1680" y="522.0" textLength="39" lengthAdjust="spacingAndGlyphs">2958.5</text>
<g shape-rendering="crispEdges">
<rect x="1675" y="58" width="48" height="14" fill="#ff0000"/>
<rect x="1675" y="72" width="48" height="13" fill="#000"/>
<rect x="1675" y="136" width="48" height="14" fill="#00ff7f"/>
<rect x="1675" y="184" width="48" height="14" fill="#0000ff"/>
<rect x="1675" y="233" width="48" height="14" fill="#0000ff"/>
<rect x="1675" y="527" width="48" height="14" fill="#ff0000"/><rect x="1674" y="540" width="1" height="1" fill="#000"/>
</g>
<text class="w" x="1680" y="538.0" textLength="39" lengthAdjust="spacingAndGlyphs">2917.0</text>
<rect x="1675" y="521" width="48" height="14" fill="#008000" shape-rendering="crispEdges"/>
<text class="w" x="1680" y="69.5" textLength="39" lengthAdjust="spacingAndGlyphs">4127.6</text>
<text class="w" x="1680" y="83.0" textLength="39" lengthAdjust="spacingAndGlyphs">4091.3</text>
<text class="w" x="1680" y="148.0" textLength="39" lengthAdjust="spacingAndGlyphs">3926.0</text>
<text class="w" x="1680" y="195.5" textLength="39" lengthAdjust="spacingAndGlyphs">3803.8</text>
<text class="w" x="1680" y="244.5" textLength="39" lengthAdjust="spacingAndGlyphs">3676.5</text>
<text class="w" x="1680" y="532.5" textLength="39" lengthAdjust="spacingAndGlyphs">2933.8</text>
<text class="t" x="1677.5" y="552.1" textLength="38" lengthAdjust="spacingAndGlyphs">121.84</text>
<text class="t" x="1677.5" y="585.0" textLength="24" lengthAdjust="spacingAndGlyphs">0.00</text>
<text class="t" x="1677.5" y="597.0" textLength="35" lengthAdjust="spacingAndGlyphs">-57.26</text>
<text class="t" x="1677.5" y="615.9" textLength="20" lengthAdjust="spacingAndGlyphs">100</text>
<text class="t" x="1677.5" y="647.0" textLength="13.5" lengthAdjust="spacingAndGlyphs">70</text>
<text class="t" x="1677.5" y="697.0" textLength="13.5" lengthAdjust="spacingAndGlyphs">30</text>
<text class="t" x="1677.5" y="727.5" textLength="6.8" lengthAdjust="spacingAndGlyphs">0</text>
<path d="M7 51.3 H16.5 L11.75 45.7 Z" fill="#000"/>
<text class="t" x="21.8" y="53" textLength="78.7" lengthAdjust="spacingAndGlyphs">CHINA300-,H4</text>
<text class="t" x="108.5" y="53" textLength="39.0" lengthAdjust="spacingAndGlyphs">4040.6</text>
<text class="t" x="151.9" y="53" textLength="39.4" lengthAdjust="spacingAndGlyphs">4092.5</text>
<text class="t" x="194.5" y="53" textLength="38.6" lengthAdjust="spacingAndGlyphs">4034.1</text>
<text class="t" x="237.3" y="53" textLength="39.2" lengthAdjust="spacingAndGlyphs">4091.3</text>
<text class="t" x="8" y="553.5" textLength="156.5" lengthAdjust="spacingAndGlyphs">MACD(12,26,9) 42.63 56.30</text>
<text class="t" x="8" y="617.5" textLength="91.5" lengthAdjust="spacingAndGlyphs">RSI(14) 61.7049</text>
<g shape-rendering="crispEdges">
<rect x="4" y="732" width="1" height="3" fill="#000"/>
<rect x="100" y="732" width="1" height="3" fill="#000"/>
<rect x="196" y="732" width="1" height="3" fill="#000"/>
<rect x="292" y="732" width="1" height="3" fill="#000"/>
<rect x="388" y="732" width="1" height="3" fill="#000"/>
<rect x="484" y="732" width="1" height="3" fill="#000"/>
<rect x="580" y="732" width="1" height="3" fill="#000"/>
<rect x="676" y="732" width="1" height="3" fill="#000"/>
<rect x="772" y="732" width="1" height="3" fill="#000"/>
<rect x="868" y="732" width="1" height="3" fill="#000"/>
<rect x="964" y="732" width="1" height="3" fill="#000"/>
<rect x="1060" y="732" width="1" height="3" fill="#000"/>
<rect x="1156" y="732" width="1" height="3" fill="#000"/>
<rect x="1252" y="732" width="1" height="3" fill="#000"/>
</g>
<text class="t" x="3.0" y="747" textLength="71.2" lengthAdjust="spacingAndGlyphs">11 Dec 2018</text>
<text class="t" x="98.8" y="747" textLength="74.7" lengthAdjust="spacingAndGlyphs">19 Dec 01:30</text>
<text class="t" x="194.3" y="747" textLength="75.2" lengthAdjust="spacingAndGlyphs">27 Dec 01:30</text>
<text class="t" x="290.3" y="747" textLength="65.2" lengthAdjust="spacingAndGlyphs">7 Jan 01:30</text>
<text class="t" x="386.8" y="747" textLength="72.0" lengthAdjust="spacingAndGlyphs">15 Jan 01:30</text>
<text class="t" x="482.6" y="747" textLength="72.2" lengthAdjust="spacingAndGlyphs">23 Jan 01:30</text>
<text class="t" x="578.6" y="747" textLength="72.0" lengthAdjust="spacingAndGlyphs">31 Jan 01:30</text>
<text class="t" x="674.9" y="747" textLength="73.2" lengthAdjust="spacingAndGlyphs">15 Feb 01:30</text>
<text class="t" x="770.6" y="747" textLength="74.4" lengthAdjust="spacingAndGlyphs">25 Feb 01:30</text>
<text class="t" x="866.8" y="747" textLength="66.2" lengthAdjust="spacingAndGlyphs">5 Mar 01:30</text>
<text class="t" x="963.1" y="747" textLength="72.5" lengthAdjust="spacingAndGlyphs">13 Mar 01:30</text>
<text class="t" x="1058.7" y="747" textLength="73.2" lengthAdjust="spacingAndGlyphs">21 Mar 01:30</text>
<text class="t" x="1154.8" y="747" textLength="73.2" lengthAdjust="spacingAndGlyphs">29 Mar 01:30</text>
<text class="t" x="1250.6" y="747" textLength="66.2" lengthAdjust="spacingAndGlyphs">9 Apr 01:30</text>
<g shape-rendering="crispEdges">
<rect x="0" y="755" width="1723" height="1" fill="#e3e3e3"/>
<rect x="0" y="756" width="1723" height="1" fill="#fff"/>
<rect x="0" y="757" width="1723" height="4" fill="#f0f0f0"/>
<rect x="0" y="757" width="431" height="1" fill="#000"/><rect x="565" y="757" width="1158" height="1" fill="#000"/>
<rect x="431" y="756" width="134" height="5" fill="#fff"/>
<rect x="430" y="757" width="1" height="4" fill="#000"/><rect x="565" y="757" width="1" height="4" fill="#000"/>
<rect x="106" y="760" width="1" height="1" fill="#000"/><rect x="106" y="759" width="1" height="1" fill="#909090"/>
<rect x="206" y="760" width="1" height="1" fill="#000"/><rect x="206" y="759" width="1" height="1" fill="#909090"/>
<rect x="326" y="760" width="1" height="1" fill="#000"/><rect x="326" y="759" width="1" height="1" fill="#909090"/>
<rect x="0" y="758" width="1" height="3" fill="#404040"/><rect x="1" y="758" width="1" height="3" fill="#fff"/>
</g>
<g shape-rendering="crispEdges">
<rect x="5" y="60" width="287" height="79" fill="#fff"/>
<path d="M7 61 H75 V88 H148 V137 H7 Z" fill="url(#rg)"/>
<path d="M222 61 H290 V137 H150 V88 H222 Z" fill="url(#rg)"/>
<rect x="7" y="61" width="68" height="1" fill="#c81818"/><rect x="7" y="61" width="1" height="76" fill="#c81818"/>
<rect x="222" y="61" width="68" height="1" fill="#c81818"/><rect x="222" y="61" width="1" height="27" fill="#c81818"/>
<rect x="11" y="88" width="60" height="1" fill="#700000"/><rect x="226" y="88" width="60" height="1" fill="#700000"/>
<rect x="77" y="61" width="142" height="24" fill="#fff" stroke="#a9acbc" stroke-width="1" transform="translate(0.5,0.5)"/>
<rect x="79" y="63" width="22" height="21" fill="url(#bg)"/><rect x="101" y="62" width="1" height="23" fill="#a9acbc"/>
<rect x="196" y="63" width="22" height="21" fill="url(#bg)"/><rect x="195" y="62" width="1" height="23" fill="#a9acbc"/>
</g>
<path d="M86 72 H93.2 L89.6 76 Z" fill="#5870c2"/><path d="M203.8 75.4 H211.2 L207.5 71.3 Z" fill="#5870c2"/>
<text x="161.2" y="79.3" font-size="16.4" fill="#000" textLength="31.2" lengthAdjust="spacingAndGlyphs">1.00</text>
<text x="24.0" y="79.9" font-size="15.2" fill="#ffece6" textLength="33.2" lengthAdjust="spacingAndGlyphs">SELL</text>
<text x="241.0" y="79.9" font-size="15.2" fill="#ffece6" textLength="29.4" lengthAdjust="spacingAndGlyphs">BUY</text>
<text x="36.6" y="125.4" font-size="14" font-weight="bold" fill="#fff" textLength="35.2" lengthAdjust="spacingAndGlyphs">4089</text>
<text x="178.8" y="125.4" font-size="14" font-weight="bold" fill="#fff" textLength="35.6" lengthAdjust="spacingAndGlyphs">4095</text>
<circle cx="81.8" cy="123.4" r="2.6" fill="#fff"/><circle cx="224.6" cy="123.4" r="2.6" fill="#fff"/>
<text x="86.4" y="126" font-size="40" fill="#fff" textLength="21" lengthAdjust="spacingAndGlyphs">8</text>
<text x="227.6" y="126" font-size="40" fill="#fff" textLength="23" lengthAdjust="spacingAndGlyphs">4</text>
</svg></body></html>
